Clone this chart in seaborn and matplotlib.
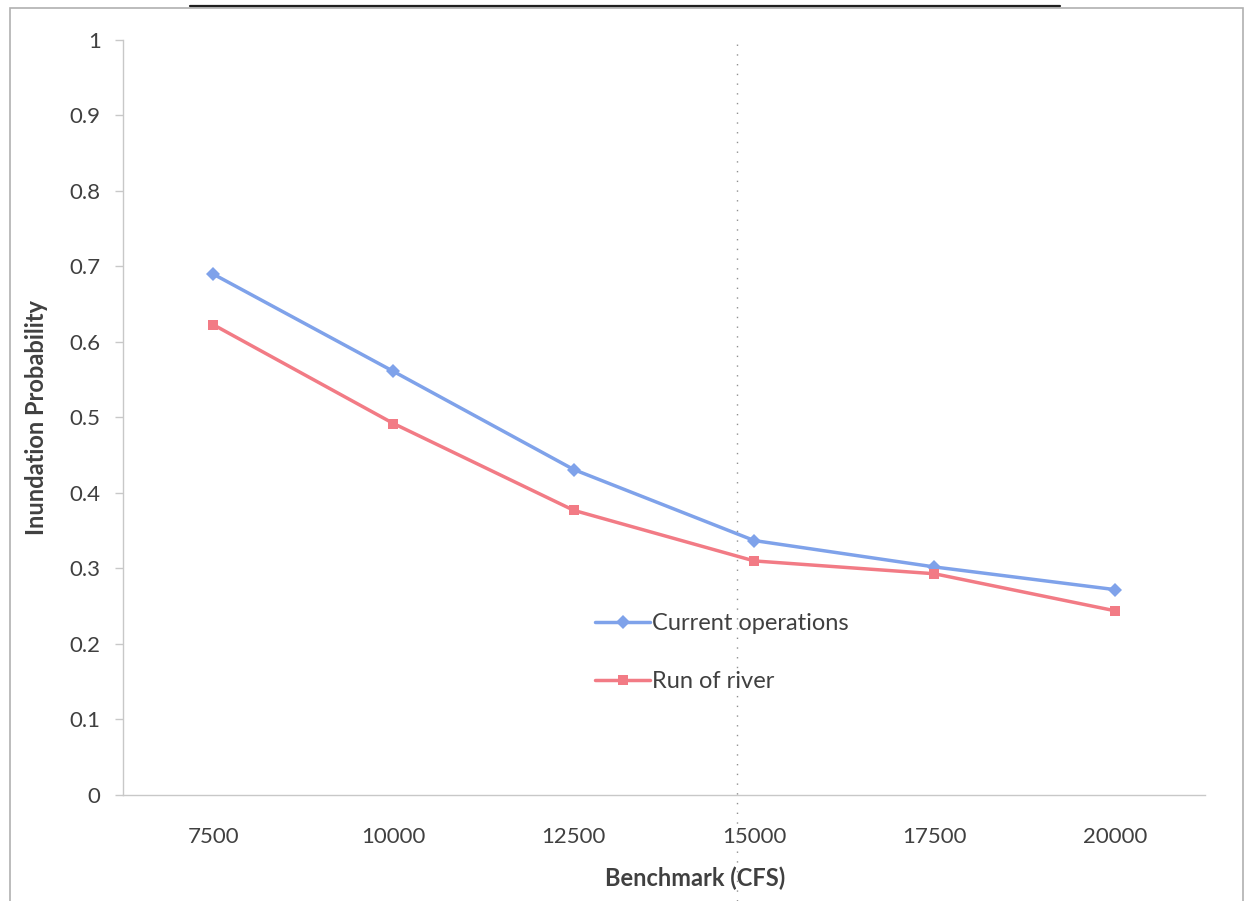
import pandas as pd
import matplotlib.pyplot as plt
import seaborn as sns
from matplotlib.lines import Line2D
from matplotlib.patches import Rectangle

# --- data ---
benchmarks = ['7500', '10000', '12500', '15000', '17500', '20000']
current_ops = [0.690, 0.561, 0.431, 0.337, 0.302, 0.272]
run_of_river = [0.623, 0.492, 0.377, 0.310, 0.293, 0.244]
series_names = ['Current operations', 'Run of river']

df = pd.DataFrame({
    'Benchmark': benchmarks * 2,
    'Probability': current_ops + run_of_river,
    'Series': [series_names[0]] * len(benchmarks) + [series_names[1]] * len(benchmarks),
})

blue = '#7fa2ea'
red = '#f27b85'
grey_axis = '#c8c8c8'
text_col = '#404040'

sns.set_theme(style='white')
plt.rcParams['font.family'] = ['Lato', 'DejaVu Sans']

fig = plt.figure(figsize=(12.47, 9.01), dpi=100)
ax = fig.add_axes([0.0986, 0.1177, 0.8677, 0.8379])

sns.lineplot(data=df, x='Benchmark', y='Probability', hue='Series', style='Series',
             palette=[blue, red], markers=['D', 's'], dashes=False, markersize=7,
             markeredgewidth=0, linewidth=2.5, sort=False, legend=False, ax=ax)

ax.set_xlim(-0.5, len(benchmarks) - 0.5)
ax.set_ylim(0, 1)
ax.set_yticks([i / 10 for i in range(11)])
ax.set_yticklabels(['0'] + [f'0.{i}' for i in range(1, 10)] + ['1'])
ax.set_xticks(range(len(benchmarks)))
ax.set_xticklabels(benchmarks)
ax.set_xticks([i - 0.5 for i in range(len(benchmarks) + 1)], minor=True)

ax.tick_params(axis='x', which='major', length=0, pad=23, labelsize=16, labelcolor=text_col)
ax.tick_params(axis='x', which='minor', length=6, width=1, color=grey_axis, direction='out')
ax.tick_params(axis='y', which='major', length=6, width=1, color=grey_axis, pad=10,
               labelsize=16, labelcolor=text_col, left=True)

for side in ['top', 'right']:
    ax.spines[side].set_visible(False)
for side in ['left', 'bottom']:
    ax.spines[side].set_color(grey_axis)
    ax.spines[side].set_linewidth(1)

ax.set_xlabel('Benchmark (CFS)', fontsize=17, fontweight='bold', color=text_col)
ax.set_ylabel('Inundation Probability', fontsize=17, fontweight='bold', color=text_col)
ax.xaxis.set_label_coords(0.5287, -0.11)
ax.xaxis.label.set_va('center')
ax.yaxis.set_label_coords(-0.0795, 0.5)
ax.yaxis.label.set_va('center')
ax.grid(False)

handles = [Line2D([], [], color=blue, marker='D', markersize=7, markeredgewidth=0, linewidth=2.5),
           Line2D([], [], color=red, marker='s', markersize=7, markeredgewidth=0, linewidth=2.5)]
fig.legend(handles, series_names, loc='upper left', bbox_to_anchor=(0.4605, 0.343),
           frameon=False, fontsize=17, handlelength=2.3, handletextpad=0.1,
           labelspacing=1.55, labelcolor=text_col)

# scan artefacts: outer frame, top rule, faint dotted fold line
fig.add_artist(Rectangle((0.008, -0.01), 0.989, 1.001, transform=fig.transFigure,
                         fill=False, edgecolor='#b0b0b0', linewidth=1.2))
fig.add_artist(Line2D([0.152, 0.85], [0.993, 0.993], transform=fig.transFigure,
                      color='#202020', linewidth=1.6))
fig.add_artist(Line2D([0.591, 0.591], [0.0, 0.958], transform=fig.transFigure,
                      color='#909090', linewidth=1, linestyle=(0, (1, 6))))

fig.savefig('out.png', dpi=100)
